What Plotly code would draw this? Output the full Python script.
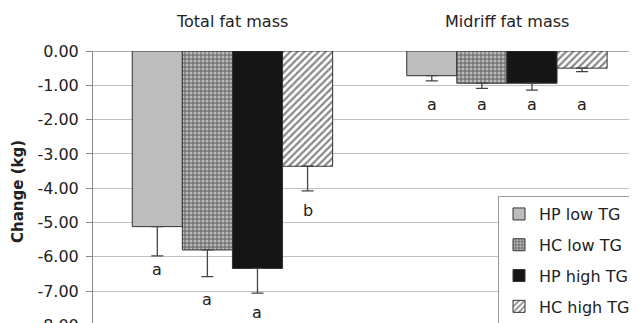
import plotly.graph_objects as go

categories = ["Total fat mass", "Midriff fat mass"]
series_names = ["HP low TG", "HC low TG", "HP high TG", "HC high TG"]

hp_low = [-5.12, -0.72]
hc_low = [-5.80, -0.94]
hp_high = [-6.34, -0.94]
hc_high = [-3.36, -0.50]

hp_low_err = [0.85, 0.15]
hc_low_err = [0.78, 0.15]
hp_high_err = [0.72, 0.20]
hc_high_err = [0.72, 0.10]

letters_total = ["a", "a", "a", "b"]
letters_mid = ["a", "a", "a", "a"]
letter_y_total = [-6.36, -7.23, -7.61, -4.66]
letter_y_mid = [-1.55, -1.55, -1.55, -1.55]

y_ticks = [0, -1, -2, -3, -4, -5, -6, -7, -8]
y_labels = ["0.00", "-1.00", "-2.00", "-3.00", "-4.00", "-5.00", "-6.00", "-7.00", "-8.00"]

FONT = "DejaVu Sans"
BARGAP = 0.27

values = [hp_low, hc_low, hp_high, hc_high]
errors = [hp_low_err, hc_low_err, hp_high_err, hc_high_err]
styles = [
    dict(color="#bdbdbd", pattern=dict(shape="")),
    dict(color="#777777", pattern=dict(shape=".", fgcolor="#ffffff", bgcolor="#777777",
                                       size=4, solidity=0.45, fillmode="overlay")),
    dict(color="#151515", pattern=dict(shape="")),
    dict(color="#ffffff", pattern=dict(shape="/", fgcolor="#111111", bgcolor="#ffffff",
                                       size=5, solidity=0.45, fillmode="overlay")),
]

fig = go.Figure()
for i, (name, vals, errs, st) in enumerate(zip(series_names, values, errors, styles)):
    fig.add_trace(go.Bar(
        name=name,
        x=list(range(len(categories))),
        y=vals,
        legendgroup=name,
        marker=dict(color=st["color"], pattern=st["pattern"],
                    line=dict(color="#333333", width=1)),
        error_y=dict(type="data", symmetric=False,
                     array=[0] * len(errs), arrayminus=errs,
                     color="#444444", thickness=1.3, width=6),
    ))

w = (1 - BARGAP) / 4
annotations = []
for ci, cat in enumerate(categories):
    annotations.append(dict(
        x=ci, xref="x", y=1.1036, yref="paper", text=cat, showarrow=False,
        font=dict(family=FONT, size=16, color="#222222"),
        xanchor="center", yanchor="middle"))

for j in range(4):
    annotations.append(dict(
        x=0 + (j - 1.5) * w, xref="x", y=letter_y_total[j], yref="y",
        text=letters_total[j], showarrow=False,
        font=dict(family=FONT, size=16, color="#222222"),
        xanchor="center", yanchor="middle"))
    annotations.append(dict(
        x=1 + (j - 1.5) * w, xref="x", y=letter_y_mid[j], yref="y",
        text=letters_mid[j], showarrow=False,
        font=dict(family=FONT, size=16, color="#222222"),
        xanchor="center", yanchor="middle"))

# y axis title
annotations.append(dict(
    x=-0.1359, xref="paper", y=0.50, yref="paper", text="<b>Change (kg)</b>",
    textangle=-90, showarrow=False, font=dict(family=FONT, size=15, color="#222222"),
    xanchor="center", yanchor="middle"))

fig.update_layout(
    width=637, height=323,
    margin=dict(l=85, r=0, t=43, b=0, autoexpand=False),
    paper_bgcolor="white", plot_bgcolor="white",
    barmode="group", bargap=BARGAP, bargroupgap=0,
    font=dict(family=FONT, size=16, color="#222222"),
    showlegend=True,
    legend=dict(x=0.7337, y=0.482, xanchor="left", yanchor="top",
                bgcolor="white", bordercolor="#999999", borderwidth=1,
                font=dict(family=FONT, size=16, color="#222222"),
                traceorder="grouped", tracegroupgap=7, itemwidth=30),
    xaxis=dict(range=[-0.508, 1.503], showticklabels=False, showgrid=False,
               zeroline=False, showline=False, ticks=""),
    yaxis=dict(range=[-8.163, 0], tickvals=y_ticks, ticktext=y_labels,
               showgrid=True, gridcolor="#c0c0c0", gridwidth=1,
               zeroline=True, zerolinecolor="#aaaaaa", zerolinewidth=1,
               showline=True, linecolor="#888888", linewidth=1,
               ticks="outside", ticklen=6, tickcolor="#888888",
               ticklabelstandoff=4, ticklabeloverflow="allow",
               tickfont=dict(family=FONT, size=16, color="#222222")),
    annotations=annotations,
)

fig.write_html("out.html")
